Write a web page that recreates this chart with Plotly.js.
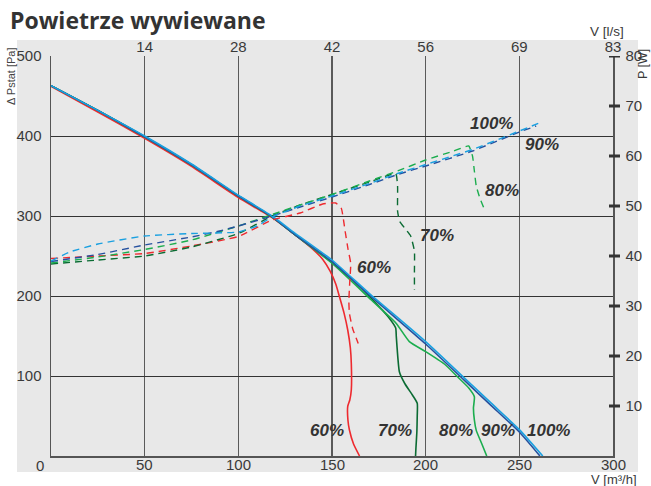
<!DOCTYPE html>
<html>
<head>
<meta charset="utf-8">
<script src="https://cdn.plot.ly/plotly-3.0.1.min.js"></script>
<style>html,body{margin:0;padding:0;background:#fff;}#chart{width:651px;height:486px;}</style>
</head>
<body>
<div id="chart"></div>
<script>
// ---- Pressure curves (solid, left axis, Pa) ----
const p60x = [0,25,50,75,100,118,130,140,145,149,152,154,156.5,158.4,159.8,160.3,160.3,159.5,158.4,158.5,159.3,161.5,164.7];
const p60y = [462,430,397,362,323,298,277,258,246,231,215,199,178,157.5,135,116,82.5,70,62,45,32.5,15,0];
const p70x = [0,25,50,75,100,118,130,150,161,171,180.7,184,184.3,184.6,186,189,193,195.5,195.5,195.3,194.8,194.6];
const p70y = [463,432,399,364,325,299,277,242,220,197,172,160,150,140,105,90,76,66,50,30,10,0];
const p80x = [0,25,50,75,100,118,130,150,171,184.2,191.3,200,210,217,223,226,225.5,226,227,230,232.6];
const p80y = [463,432,399,364,325,299,277,241,195,166,143,130.5,115,99,85,74,60,45,32,15,0];
const p90x = [0,25,50,75,100,118,130,150,170,200,220,235,250,261];
const p90y = [463,432,399,364,325,299,277,243,201,140,96,63,30,0];
const p100x = [0,25,50,75,100,118,130,150,170,200,220,235,250,262.5];
const p100y = [463,432,400,365,326,300,279,245,203,143,99,66,33,0];

// ---- Power curves (dashed, right axis, W) ----
const w60x = [0,25,50,75,100,118,133,145,152,155,157,158.5,160,159.5,159,159.3,161,164];
const w60y = [39.5,40,40.5,42,43.9,47.2,48.6,50.4,50.6,49.5,45,41.5,38.5,35,31,28.5,25.5,22.5];
const w70x = [0,25,50,75,100,118,133,150,170,184,185,185,186,189,192,194,194,194];
const w70y = [38.4,39.2,40,41.8,44.5,48,50.2,52.3,54.8,56.5,54,49,47,45.5,44,41,37,33.2];
const w80x = [0,25,50,75,100,118,133,150,170,185,200,215,223,225,226,227,229,231.5];
const w80y = [38.6,39.8,41.3,43.2,46,48.3,50.2,52.3,55,57,59.2,61,62,60,57,54,51.5,49.2];
const w90x = [0,25,50,75,90,100,118,133,150,170,185,200,225,250,259];
const w90y = [38.9,40.3,42.2,43.8,45,46,48,49.8,51.8,54.3,56.3,58,61,64.8,66];
const w100x = [0,10,25,50,75,100,110,118,133,150,170,185,200,225,250,262];
const w100y = [39,40.8,42.4,44,44.5,44.8,46,47.8,50,52,54.5,56.5,58.3,61.3,65,66.8];

// ---- Axes ----
const xTicks = [50,100,150,200,250,300];
const xBottomText = ['50','100','150','200','250','300'];
const xTopText = ['14','28','42','56','69','83'];
const yTicks = [100,200,300,400,500];
const y2Ticks = [10,20,30,40,50,60,70,80];

const colors = {'60':'#ee2a2f','70':'#0b6b33','80':'#1bad4e','90':'#25519f','100':'#1aa0e0'};

const traces = [];
function solid(x,y,c){traces.push({x:x,y:y,type:'scatter',mode:'lines',line:{color:c,width:1.6,shape:'spline',smoothing:0.5},hoverinfo:'skip',showlegend:false});}
function dashed(x,y,c){traces.push({x:x,y:y,yaxis:'y2',type:'scatter',mode:'lines',line:{color:c,width:1.4,dash:'7px,5px',shape:'spline',smoothing:0.4},hoverinfo:'skip',showlegend:false});}
dashed(w60x,w60y,colors['60']);
dashed(w70x,w70y,colors['70']);
dashed(w80x,w80y,colors['80']);
dashed(w90x,w90y,colors['90']);
dashed(w100x,w100y,colors['100']);
solid(p60x,p60y,colors['60']);
solid(p70x,p70y,colors['70']);
solid(p80x,p80y,colors['80']);
solid(p90x,p90y,colors['90']);
solid(p100x,p100y,colors['100']);
// invisible trace to activate the top axis
traces.push({x:xTicks,y:xTicks.map(()=>null),xaxis:'x2',type:'scatter',mode:'markers',marker:{opacity:0},hoverinfo:'skip',showlegend:false});

const W=651,H=486,ml=51,mr=38,mt=56,mb=30;
const pw=W-ml-mr, ph=H-mt-mb;
const fam='Liberation Sans, Arial, sans-serif';
const tickFont={family:fam,size:15,color:'#3a3a3a'};
const py=(p)=>(H-mb-p)/ph;   // pixel row -> paper y
const px=(p)=>(p-ml)/pw;     // pixel col -> paper x

const shapes=[{type:'rect',xref:'paper',yref:'paper',x0:px(17),x1:px(638),y0:py(472),y1:py(40),fillcolor:'#e8e8e8',line:{width:0},layer:'below'}];
y2Ticks.forEach(v=>shapes.push({type:'line',xref:'paper',yref:'y2',x0:1-4/pw,x1:1+7/pw,y0:v,y1:v,line:{color:'#333',width:3}}));

const lbl=(t,x,y)=>({text:'<b><i>'+t+'</i></b>',x:x,y:y,xref:'x',yref:'y',showarrow:false,font:{family:fam,size:17,color:'#333'}});
const annotations=[
  lbl('100%',234.9,416), lbl('90%',262.1,389), lbl('80%',240.7,332.5), lbl('70%',206,276), lbl('60%',172.4,236),
  lbl('60%',147.3,32.5), lbl('70%',183.6,32.5), lbl('80%',216.2,32.5), lbl('90%',238.6,32.5), lbl('100%',265.8,32.5),
  {text:'0',xref:'paper',yref:'paper',x:px(40),y:py(465),showarrow:false,font:tickFont,xanchor:'center',yanchor:'middle'},
  {text:'Δ Pstat [Pa]',xref:'paper',yref:'paper',x:px(11),y:py(76),textangle:-90,showarrow:false,font:{family:fam,size:11,color:'#444'},xanchor:'center',yanchor:'middle'},
  {text:'V [l/s]',xref:'paper',yref:'paper',x:px(607),y:py(32),showarrow:false,font:{family:fam,size:13.5,color:'#3a3a3a'},xanchor:'center',yanchor:'middle'},
  {text:'V [m³/h]',xref:'paper',yref:'paper',x:px(614),y:py(479.5),showarrow:false,font:{family:fam,size:13,color:'#3a3a3a'},xanchor:'center',yanchor:'middle'},
  {text:'P [W]',xref:'paper',yref:'paper',x:px(643),y:py(64),textangle:-90,showarrow:false,font:{family:fam,size:12.5,color:'#3a3a3a'},xanchor:'center',yanchor:'middle'}
];
xTicks.forEach((v,i)=>annotations.push({text:xBottomText[i],x:v,xref:'x',yref:'paper',y:py(464.5),showarrow:false,font:tickFont,xanchor:'center',yanchor:'middle'}));

const layout={
  width:W,height:H,
  margin:{l:ml,r:mr,t:mt,b:mb,pad:0},
  paper_bgcolor:'#ffffff',plot_bgcolor:'rgba(0,0,0,0)',
  title:{text:'<b>Powietrze wywiewane</b>',xref:'container',yref:'container',x:10/W,xanchor:'left',y:1-21/H,yanchor:'middle',font:{family:'Open Sans, sans-serif',size:23,color:'#333'}},
  showlegend:false,
  xaxis:{range:[0,300],tickvals:xTicks,showticklabels:false,showgrid:true,gridcolor:'#5a5a5a',gridwidth:1.6,showline:true,linecolor:'#555',linewidth:1.5,zeroline:false,ticks:'',fixedrange:true},
  xaxis2:{range:[0,300],overlaying:'x',side:'top',tickvals:xTicks,ticktext:xTopText,showgrid:false,showline:false,zeroline:false,ticks:'',tickfont:tickFont,ticklabelstandoff:0,fixedrange:true},
  yaxis:{range:[0,500],tickvals:yTicks,showgrid:true,gridcolor:'#333',gridwidth:1,showline:true,linecolor:'#555',linewidth:1.5,zeroline:false,ticks:'',tickfont:tickFont,ticklabelstandoff:5,fixedrange:true},
  yaxis2:{range:[0,80],overlaying:'y',side:'right',tickvals:y2Ticks,showgrid:false,showline:true,linecolor:'#555',linewidth:1.5,zeroline:false,ticks:'',tickfont:tickFont,ticklabelstandoff:8,fixedrange:true},
  shapes:shapes,annotations:annotations
};
Plotly.newPlot('chart',traces,layout,{displayModeBar:false,staticPlot:true});
</script>
</body>
</html>
